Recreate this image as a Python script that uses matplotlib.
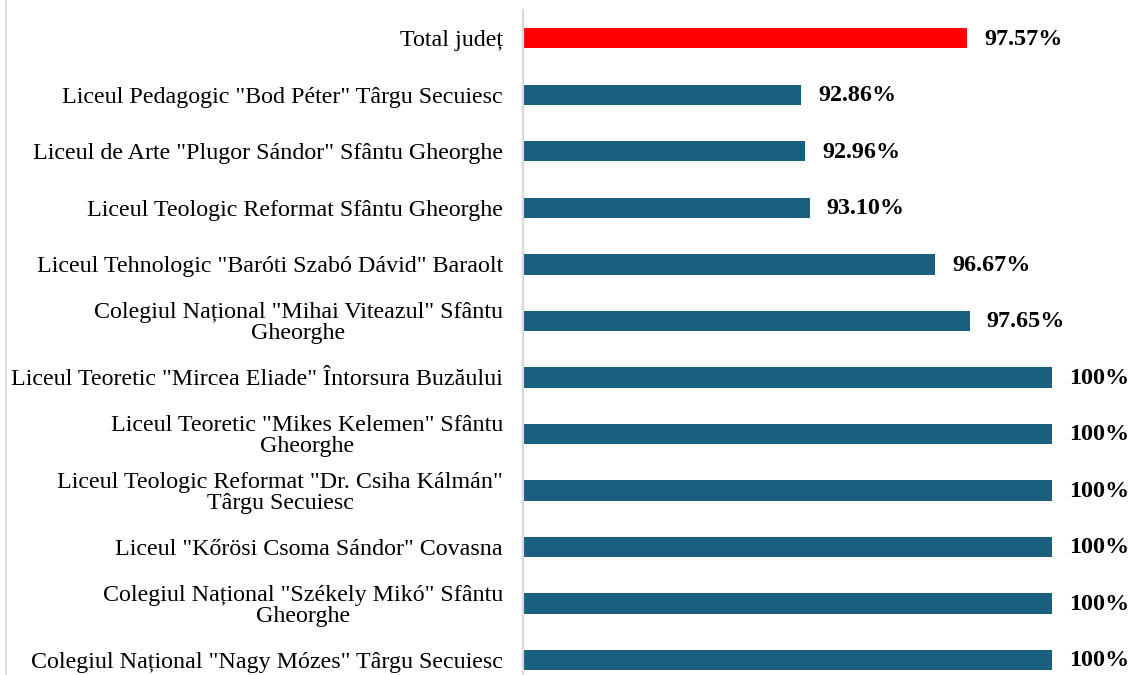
import matplotlib
matplotlib.use("Agg")
import matplotlib.pyplot as plt
from matplotlib.lines import Line2D

categories = [
    "Total județ",
    "Liceul Pedagogic \"Bod Péter\" Târgu Secuiesc",
    "Liceul de Arte \"Plugor Sándor\" Sfântu Gheorghe",
    "Liceul Teologic Reformat Sfântu Gheorghe",
    "Liceul Tehnologic \"Baróti Szabó Dávid\" Baraolt",
    "Colegiul Național \"Mihai Viteazul\" Sfântu\nGheorghe",
    "Liceul Teoretic \"Mircea Eliade\" Întorsura Buzăului",
    "Liceul Teoretic \"Mikes Kelemen\" Sfântu\nGheorghe",
    "Liceul Teologic Reformat \"Dr. Csiha Kálmán\"\nTârgu Secuiesc",
    "Liceul \"Kőrösi Csoma Sándor\" Covasna",
    "Colegiul Național \"Székely Mikó\" Sfântu\nGheorghe",
    "Colegiul Național \"Nagy Mózes\" Târgu Secuiesc",
]
values = [97.57, 92.86, 92.96, 93.10, 96.67, 97.65, 100, 100, 100, 100, 100, 100]
value_labels = ["97.57%", "92.86%", "92.96%", "93.10%", "96.67%", "97.65%",
                "100%", "100%", "100%", "100%", "100%", "100%"]

plt.rcParams['font.family'] = ['Liberation Serif', 'DejaVu Serif']

W, H = 1132, 675
fig = plt.figure(figsize=(W / 100, H / 100), dpi=100)
ax = fig.add_axes([523 / W, 0.0, (1100 - 523) / W, 1 - 10 / H])

colors = ['#FF0000'] + ['#1A5E80'] * (len(values) - 1)
y = list(range(len(values)))
ax.barh(y, values, height=0.36, color=colors, left=0)

x0 = 84.94
ax.set_xlim(x0, x0 + (1100 - 523) / 35.15)
ax.set_ylim(11 + 15 / 56.5, -0.5)

for yi, v, lab in zip(y, values, value_labels):
    ax.annotate(lab, xy=(v, yi), xytext=(17 * 72 / 100, -1 * 72 / 100), textcoords='offset points',
                ha='left', va='center', fontsize=17.4, fontweight='bold', color='black')

ax.set_yticks(y)
ax.set_yticklabels(categories, fontsize=17.3, linespacing=1.0, ha='right',
                   multialignment='center')
ax.tick_params(axis='y', length=0, pad=20 * 72 / 100)
ax.set_xticks([])
for s in ['top', 'right', 'bottom']:
    ax.spines[s].set_visible(False)
ax.spines['left'].set_color('#D9D9D9')
ax.spines['left'].set_linewidth(1.6)

fig.add_artist(Line2D([5.5 / W, 5.5 / W], [0, 1], transform=fig.transFigure,
                      color='#D9D9D9', linewidth=1.2))

fig.savefig('out.png', dpi=100)
